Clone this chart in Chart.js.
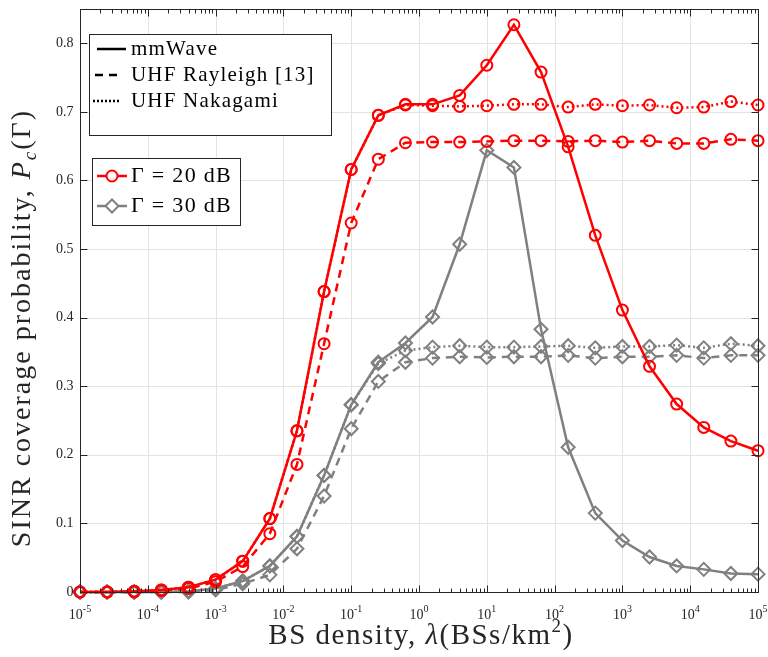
<!DOCTYPE html>
<html>
<head>
<meta charset="utf-8">
<script src="https://cdn.jsdelivr.net/npm/chart.js@4/dist/chart.umd.min.js"></script>
<style>
  html, body { margin: 0; padding: 0; background: #fff; }
  #wrap { width: 768px; height: 657px; }
</style>
</head>
<body>
<div id="wrap"><canvas id="chart" width="768" height="657"></canvas></div>
<script>
// BS density (BSs/km^2), 0.4 decade steps
const density = [
  1e-5, 2.512e-5, 6.310e-5, 1.585e-4, 3.981e-4,
  1e-3, 2.512e-3, 6.310e-3, 1.585e-2, 3.981e-2,
  0.1, 0.2512, 0.6310, 1.585, 3.981,
  10, 25.12, 63.10, 158.5, 398.1,
  1000, 2512, 6310, 15850, 39810, 100000
];

// Gamma = 20 dB
const mmWave20 = [
  0.000, 0.000, 0.001, 0.003, 0.007, 0.018, 0.045, 0.107, 0.235, 0.438,
  0.616, 0.695, 0.711, 0.711, 0.724, 0.768, 0.827, 0.758, 0.649, 0.520,
  0.411, 0.329, 0.274, 0.240, 0.220, 0.206
];
const rayleigh20 = [
  0.000, 0.000, 0.000, 0.002, 0.005, 0.015, 0.037, 0.085, 0.186, 0.362,
  0.538, 0.631, 0.655, 0.656, 0.656, 0.657, 0.658, 0.658, 0.657, 0.658,
  0.656, 0.658, 0.654, 0.654, 0.660, 0.658
];
const nakagami20 = [
  0.000, 0.000, 0.001, 0.003, 0.007, 0.018, 0.045, 0.107, 0.235, 0.438,
  0.616, 0.695, 0.710, 0.709, 0.708, 0.709, 0.711, 0.711, 0.707, 0.711,
  0.709, 0.710, 0.706, 0.707, 0.715, 0.710
];

// Gamma = 30 dB
const mmWave30 = [
  0.000, 0.000, 0.000, 0.000, 0.001, 0.005, 0.016, 0.038, 0.081, 0.170,
  0.273, 0.335, 0.363, 0.401, 0.507, 0.644, 0.619, 0.383, 0.211, 0.115,
  0.075, 0.051, 0.038, 0.033, 0.027, 0.026
];
const rayleigh30 = [
  0.000, 0.000, 0.000, 0.000, 0.000, 0.003, 0.012, 0.025, 0.063, 0.140,
  0.238, 0.307, 0.335, 0.341, 0.343, 0.342, 0.343, 0.343, 0.345, 0.341,
  0.343, 0.343, 0.345, 0.341, 0.345, 0.345
];
const nakagami30 = [
  0.000, 0.000, 0.000, 0.000, 0.001, 0.005, 0.016, 0.038, 0.081, 0.170,
  0.273, 0.333, 0.352, 0.357, 0.359, 0.357, 0.357, 0.358, 0.359, 0.356,
  0.358, 0.358, 0.360, 0.356, 0.362, 0.359
];

// axis ticks
const xTickValues = [1e-5, 1e-4, 1e-3, 1e-2, 1e-1, 1e0, 1e1, 1e2, 1e3, 1e4, 1e5];
const xTickExps = ['-5', '-4', '-3', '-2', '-1', '0', '1', '2', '3', '4', '5'];
const yTickValues = [0, 0.1, 0.2, 0.3, 0.4, 0.5, 0.6, 0.7, 0.8];
const yTickLabels = ['0', '0.1', '0.2', '0.3', '0.4', '0.5', '0.6', '0.7', '0.8'];

const RED = '#ff0000';
const GRAY = '#808080';
const AXIS = '#262626';
const SERIF = '"Liberation Serif", "DejaVu Serif", serif';

function pts(ys) {
  return ys.map((y, i) => ({ x: density[i], y: y }));
}

function series(label, ys, color, dash, marker) {
  return {
    label: label,
    data: pts(ys),
    borderColor: color,
    backgroundColor: 'transparent',
    borderWidth: 2.5,
    borderDash: dash,
    pointStyle: marker,
    pointRadius: marker === 'circle' ? 5.5 : 6.5,
    pointBorderWidth: 2,
    pointBorderColor: color,
    pointBackgroundColor: 'transparent',
    tension: 0,
    fill: false,
    clip: false
  };
}

// draw a string made of styled pieces, centered on (0,0) of the current transform
function drawRich(ctx, parts, spacing) {
  ctx.letterSpacing = (spacing || 0) + 'px';
  let total = 0;
  parts.forEach(p => { ctx.font = p.font; p.w = ctx.measureText(p.t).width; total += p.w; });
  let x = -total / 2;
  ctx.textAlign = 'left';
  ctx.textBaseline = 'alphabetic';
  parts.forEach(p => {
    ctx.font = p.font;
    ctx.fillText(p.t, x, p.dy || 0);
    x += p.w;
  });
  ctx.letterSpacing = '0px';
}

const matlabAxes = {
  id: 'matlabAxes',
  beforeDraw(chart) {
    const ctx = chart.ctx;
    ctx.save();
    ctx.fillStyle = '#fff';
    ctx.fillRect(0, 0, chart.width, chart.height);
    ctx.restore();
  },
  beforeDatasetsDraw(chart) {
    const { ctx, chartArea: a, scales } = chart;
    ctx.save();
    ctx.strokeStyle = '#e3e3e3';
    ctx.lineWidth = 1;
    xTickValues.forEach(v => {
      const px = Math.round(scales.x.getPixelForValue(v)) + 0.5;
      ctx.beginPath(); ctx.moveTo(px, a.top); ctx.lineTo(px, a.bottom); ctx.stroke();
    });
    yTickValues.forEach(v => {
      const py = Math.round(scales.y.getPixelForValue(v)) + 0.5;
      ctx.beginPath(); ctx.moveTo(a.left, py); ctx.lineTo(a.right, py); ctx.stroke();
    });
    ctx.restore();
  },
  afterDatasetsDraw(chart) {
    const { ctx, chartArea: a, scales } = chart;
    ctx.save();
    ctx.strokeStyle = AXIS;
    ctx.lineWidth = 1;
    const L = Math.round(a.left) + 0.5, R = Math.round(a.right) + 0.5;
    const T = Math.round(a.top) + 0.5, B = Math.round(a.bottom) + 0.5;
    ctx.strokeRect(L, T, R - L, B - T);

    // x ticks, major and minor, inward on bottom and top
    ctx.beginPath();
    for (let e = -5; e < 5; e++) {
      for (let m = 1; m < 10; m++) {
        const px = Math.round(scales.x.getPixelForValue(m * Math.pow(10, e))) + 0.5;
        const len = m === 1 ? 7 : 4;
        ctx.moveTo(px, B); ctx.lineTo(px, B - len);
        ctx.moveTo(px, T); ctx.lineTo(px, T + len);
      }
    }
    ctx.moveTo(R, B); ctx.lineTo(R, B - 7);
    ctx.moveTo(R, T); ctx.lineTo(R, T + 7);
    // y ticks inward on left and right
    yTickValues.forEach(v => {
      const py = Math.round(scales.y.getPixelForValue(v)) + 0.5;
      ctx.moveTo(L, py); ctx.lineTo(L + 7, py);
      ctx.moveTo(R, py); ctx.lineTo(R - 7, py);
    });
    ctx.stroke();

    // tick labels
    ctx.fillStyle = AXIS;
    ctx.font = '14px ' + SERIF;
    ctx.textAlign = 'right';
    ctx.textBaseline = 'middle';
    yTickValues.forEach((v, i) => {
      ctx.fillText(yTickLabels[i], L - 7, scales.y.getPixelForValue(v));
    });
    xTickValues.forEach((v, i) => {
      const px = scales.x.getPixelForValue(v);
      ctx.save();
      ctx.translate(px, B + 26);
      drawRich(ctx, [
        { t: '10', font: '14px ' + SERIF },
        { t: xTickExps[i], font: '10px ' + SERIF, dy: -7 }
      ]);
      ctx.restore();
    });

    // axis titles
    ctx.fillStyle = '#262626';
    ctx.save();
    ctx.translate((a.left + a.right) / 2 + 2, B + 51);
    drawRich(ctx, [
      { t: 'BS density, ', font: '29px ' + SERIF },
      { t: 'λ', font: 'italic 29px ' + SERIF },
      { t: '(BSs/km', font: '29px ' + SERIF },
      { t: '2', font: '19px ' + SERIF, dy: -12 },
      { t: ')', font: '29px ' + SERIF }
    ], 1.5);
    ctx.restore();

    ctx.save();
    ctx.translate(30, 328);
    ctx.rotate(-Math.PI / 2);
    drawRich(ctx, [
      { t: 'SINR coverage probability, ', font: '28px ' + SERIF },
      { t: 'P', font: 'italic 28px ' + SERIF },
      { t: 'c', font: 'italic 19px ' + SERIF, dy: 6 },
      { t: '(Γ)', font: '28px ' + SERIF }
    ], 2);
    ctx.restore();

    // legend 1: line styles
    ctx.fillStyle = '#fff';
    ctx.fillRect(89.5, 34.5, 242, 101);
    ctx.strokeStyle = AXIS;
    ctx.lineWidth = 1;
    ctx.strokeRect(89.5, 34.5, 242, 101);
    const styles = [
      { dash: [], label: 'mmWave', y: 49, x0: 97, x1: 126 },
      { dash: [8, 6], label: 'UHF Rayleigh [13]', y: 75, x0: 95, x1: 122 },
      { dash: [2, 2], label: 'UHF Nakagami', y: 101, x0: 93, x1: 121 }
    ];
    styles.forEach(s => {
      ctx.strokeStyle = '#000';
      ctx.lineWidth = 2.5;
      ctx.setLineDash(s.dash);
      ctx.beginPath(); ctx.moveTo(s.x0, s.y); ctx.lineTo(s.x1, s.y); ctx.stroke();
      ctx.setLineDash([]);
      ctx.fillStyle = '#000';
      ctx.font = '21px ' + SERIF;
      ctx.letterSpacing = '1.2px';
      ctx.textAlign = 'left';
      ctx.textBaseline = 'middle';
      ctx.fillText(s.label, 131, s.y);
      ctx.letterSpacing = '0px';
    });

    // legend 2: thresholds
    ctx.fillStyle = '#fff';
    ctx.fillRect(92.5, 158.5, 148, 67);
    ctx.strokeStyle = AXIS;
    ctx.lineWidth = 1;
    ctx.strokeRect(92.5, 158.5, 148, 67);
    const gammas = [
      { color: RED, marker: 'circle', label: 'Γ = 20 dB', y: 176 },
      { color: GRAY, marker: 'rectRot', label: 'Γ = 30 dB', y: 206 }
    ];
    gammas.forEach(g => {
      ctx.strokeStyle = g.color;
      ctx.lineWidth = 2.5;
      ctx.beginPath(); ctx.moveTo(97, g.y); ctx.lineTo(127, g.y); ctx.stroke();
      ctx.lineWidth = 2;
      ctx.fillStyle = '#fff';
      Chart.helpers.drawPoint(ctx, {
        pointStyle: g.marker, radius: g.marker === 'circle' ? 5.5 : 6.5, rotation: 0, borderWidth: 2
      }, 112, g.y);
      ctx.fillStyle = '#000';
      ctx.font = '22px ' + SERIF;
      ctx.letterSpacing = '1.3px';
      ctx.textAlign = 'left';
      ctx.textBaseline = 'middle';
      ctx.fillText(g.label, 131, g.y);
      ctx.letterSpacing = '0px';
    });
    ctx.restore();
  }
};

const chart = new Chart(document.getElementById('chart'), {
  type: 'line',
  data: {
    datasets: [
      series('mmWave, Γ = 20 dB', mmWave20, RED, [], 'circle'),
      series('UHF Rayleigh, Γ = 20 dB', rayleigh20, RED, [8, 6], 'circle'),
      series('UHF Nakagami, Γ = 20 dB', nakagami20, RED, [2, 3], 'circle'),
      series('mmWave, Γ = 30 dB', mmWave30, GRAY, [], 'rectRot'),
      series('UHF Rayleigh, Γ = 30 dB', rayleigh30, GRAY, [8, 6], 'rectRot'),
      series('UHF Nakagami, Γ = 30 dB', nakagami30, GRAY, [2, 3], 'rectRot')
    ]
  },
  options: {
    responsive: false,
    animation: false,
    layout: { padding: { left: 80, right: 10, top: 9, bottom: 65 } },
    plugins: {
      legend: { display: false },
      tooltip: { enabled: false }
    },
    scales: {
      x: {
        type: 'logarithmic',
        min: 1e-5,
        max: 1e5,
        grid: { display: false, drawTicks: false },
        border: { display: false },
        ticks: { display: false }
      },
      y: {
        type: 'linear',
        min: 0,
        max: 0.85,
        grid: { display: false, drawTicks: false },
        border: { display: false },
        ticks: { display: false }
      }
    }
  },
  plugins: [matlabAxes]
});
</script>
</body>
</html>
